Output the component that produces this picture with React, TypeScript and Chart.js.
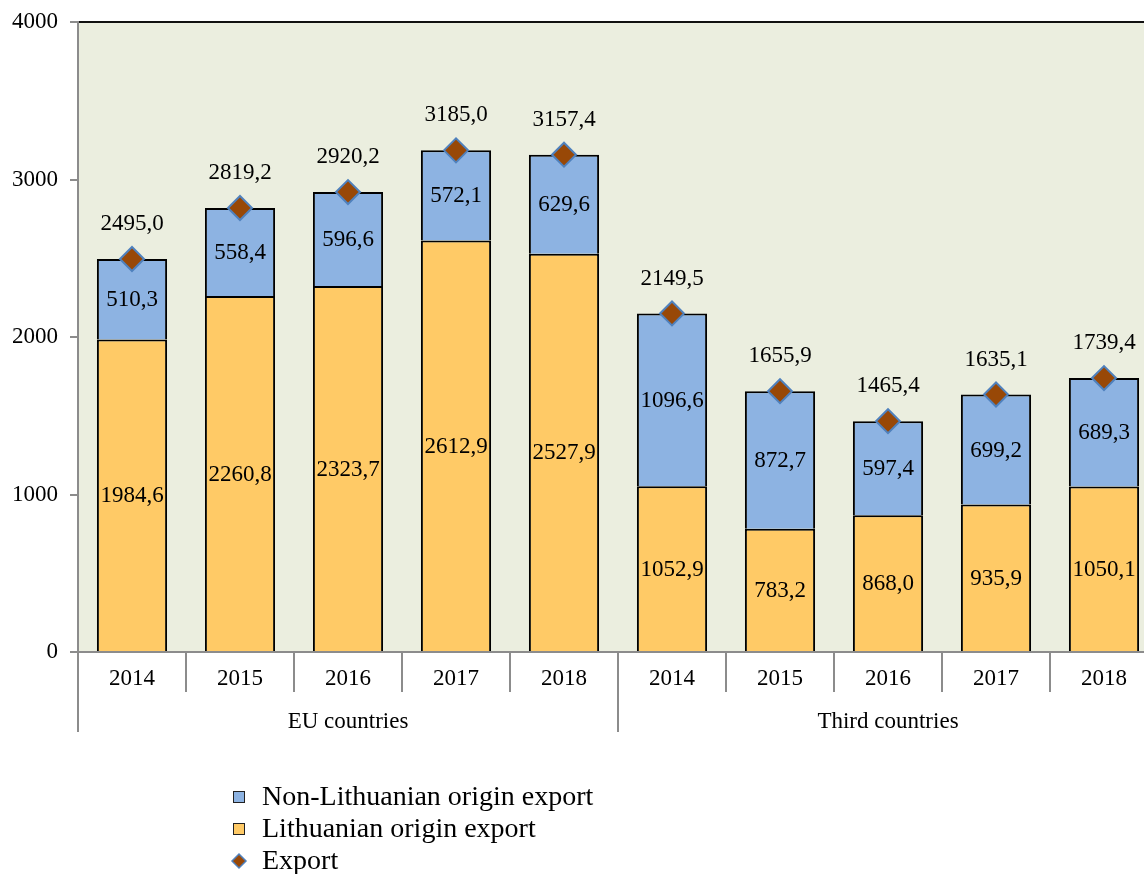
import React, { useEffect, useRef } from "react";
import { Chart, registerables } from "chart.js";

Chart.register(...registerables);

const years = ["2014", "2015", "2016", "2017", "2018", "2014", "2015", "2016", "2017", "2018"];
const groups = ["EU countries", "Third countries"];
const groupSize = 5;
const lithuanianOrigin = [1984.6, 2260.8, 2323.7, 2612.9, 2527.9, 1052.9, 783.2, 868.0, 935.9, 1050.1];
const nonLithuanianOrigin = [510.3, 558.4, 596.6, 572.1, 629.6, 1096.6, 872.7, 597.4, 699.2, 689.3];
const exportTotal = [2495.0, 2819.2, 2920.2, 3185.0, 3157.4, 2149.5, 1655.9, 1465.4, 1635.1, 1739.4];
const yTicks = [0, 1000, 2000, 3000, 4000];

const FONT = "'Liberation Serif', serif";
const ORANGE = "#FFCA66";
const BLUE = "#8DB3E2";
const BROWN = "#984807";
const DIAMOND_BORDER = "#4F81BD";
const GREY = "#8C8C8C";

const fmt = (v: number) => v.toFixed(1).replace(".", ",");

export default function App() {
  const ref = useRef<HTMLCanvasElement | null>(null);

  useEffect(() => {
    if (!ref.current) return;

    const bgPlugin = {
      id: "bg",
      beforeDraw(chart: any) {
        const { ctx, chartArea } = chart;
        ctx.save();
        ctx.fillStyle = "#EBEEDF";
        ctx.fillRect(chartArea.left, chartArea.top, chartArea.right - chartArea.left, chartArea.bottom - chartArea.top);
        ctx.strokeStyle = "#111";
        ctx.lineWidth = 2;
        ctx.beginPath();
        ctx.moveTo(chartArea.left, chartArea.top);
        ctx.lineTo(chartArea.right, chartArea.top);
        ctx.stroke();
        ctx.restore();
      },
    };

    const labelsPlugin = {
      id: "labels",
      afterDraw(chart: any) {
        const { ctx, chartArea } = chart;
        const xs = chart.scales.x;
        ctx.save();
        ctx.fillStyle = "#000";
        ctx.textAlign = "center";
        ctx.textBaseline = "middle";
        ctx.font = `23px ${FONT}`;
        [0, 1].forEach((di) => {
          const meta = chart.getDatasetMeta(di);
          const data = chart.data.datasets[di].data as number[];
          meta.data.forEach((el: any, i: number) => {
            const cy = (el.y + el.base) / 2;
            ctx.fillText(fmt(data[i]), el.x, cy + 1);
          });
        });
        const meta2 = chart.getDatasetMeta(2);
        meta2.data.forEach((el: any, i: number) => {
          ctx.fillText(fmt(exportTotal[i]), el.x, el.y - 35);
        });

        const bottom = chartArea.bottom;
        const step = xs.getPixelForValue(1) - xs.getPixelForValue(0);
        ctx.strokeStyle = GREY;
        ctx.lineWidth = 2;
        for (let i = 0; i <= years.length; i++) {
          const x = i < years.length ? xs.getPixelForValue(i) - step / 2 : xs.getPixelForValue(years.length - 1) + step / 2;
          const isGroup = i % groupSize === 0;
          ctx.beginPath();
          ctx.moveTo(x, bottom);
          ctx.lineTo(x, bottom + (isGroup ? 80 : 40));
          ctx.stroke();
        }
        years.forEach((y, i) => {
          ctx.fillText(y, xs.getPixelForValue(i), bottom + 27);
        });
        groups.forEach((g, gi) => {
          const a = xs.getPixelForValue(gi * groupSize);
          const b = xs.getPixelForValue(gi * groupSize + groupSize - 1);
          ctx.fillText(g, (a + b) / 2, bottom + 70);
        });

        ctx.font = `28px ${FONT}`;
        ctx.textAlign = "left";
        const items = [
          { label: chart.data.datasets[1].label, color: BLUE, type: "box" },
          { label: chart.data.datasets[0].label, color: ORANGE, type: "box" },
          { label: chart.data.datasets[2].label, color: BROWN, type: "diamond" },
        ];
        items.forEach((it, k) => {
          const cy = 797 + k * 32;
          const cx = 239;
          if (it.type === "box") {
            ctx.fillStyle = it.color;
            ctx.fillRect(cx - 6, cy - 6, 12, 12);
            ctx.strokeStyle = "#222";
            ctx.lineWidth = 1;
            ctx.strokeRect(cx - 6 + 0.5, cy - 6 + 0.5, 11, 11);
          } else {
            ctx.beginPath();
            ctx.moveTo(cx - 7, cy);
            ctx.lineTo(cx, cy - 7);
            ctx.lineTo(cx + 7, cy);
            ctx.lineTo(cx, cy + 7);
            ctx.closePath();
            ctx.fillStyle = it.color;
            ctx.fill();
            ctx.strokeStyle = DIAMOND_BORDER;
            ctx.lineWidth = 1.5;
            ctx.stroke();
          }
          ctx.fillStyle = "#000";
          ctx.fillText(it.label, 262, cy + 1);
        });
        ctx.restore();
      },
    };

    const chart = new Chart(ref.current, {
      type: "bar",
      data: {
        labels: years,
        datasets: [
          {
            type: "bar",
            label: "Lithuanian origin export",
            data: lithuanianOrigin,
            backgroundColor: ORANGE,
            borderColor: "#000",
            borderWidth: 2,
            order: 2,
            categoryPercentage: 1,
            barPercentage: 0.65,
          },
          {
            type: "bar",
            label: "Non-Lithuanian origin export",
            data: nonLithuanianOrigin,
            backgroundColor: BLUE,
            borderColor: "#000",
            borderWidth: 2,
            order: 2,
            categoryPercentage: 1,
            barPercentage: 0.65,
          },
          {
            type: "line",
            label: "Export",
            data: exportTotal,
            showLine: false,
            pointStyle: "rectRot",
            pointRadius: 12,
            pointBackgroundColor: BROWN,
            pointBorderColor: DIAMOND_BORDER,
            pointBorderWidth: 2,
            order: 0,
            stack: "total",
          } as any,
        ],
      },
      options: {
        responsive: true,
        maintainAspectRatio: false,
        animation: false,
        layout: { autoPadding: false, padding: { top: 22, left: 0, right: 0, bottom: 0 } },
        plugins: {
          legend: { display: false },
          tooltip: { enabled: false },
        },
        scales: {
          x: {
            stacked: true,
            grid: { display: false },
            ticks: { display: false },
            border: { display: true, color: GREY, width: 2 },
            afterFit(scale: any) {
              scale.height = 222;
            },
          },
          y: {
            stacked: true,
            min: 0,
            max: 4000,
            afterBuildTicks(scale: any) {
              scale.ticks = yTicks.map((v) => ({ value: v }));
            },
            ticks: {
              color: "#000",
              font: { family: FONT, size: 23, lineHeight: 0.8 },
              padding: 12,
              callback: (v: any) => String(v),
            },
            grid: {
              drawOnChartArea: false,
              drawTicks: true,
              tickLength: 8,
              color: GREY,
              lineWidth: 2,
            },
            border: { display: true, color: GREY, width: 2 },
            afterFit(scale: any) {
              scale.width = 78;
            },
          },
        },
      },
      plugins: [bgPlugin, labelsPlugin],
    });
    return () => chart.destroy();
  }, []);

  return (
    <div style={{ position: "fixed", left: 0, top: 0, width: 1144, height: 874, overflow: "hidden", background: "#fff" }}>
      <div style={{ position: "relative", width: 1158, height: 874 }}>
        <canvas ref={ref} />
      </div>
    </div>
  );
}
